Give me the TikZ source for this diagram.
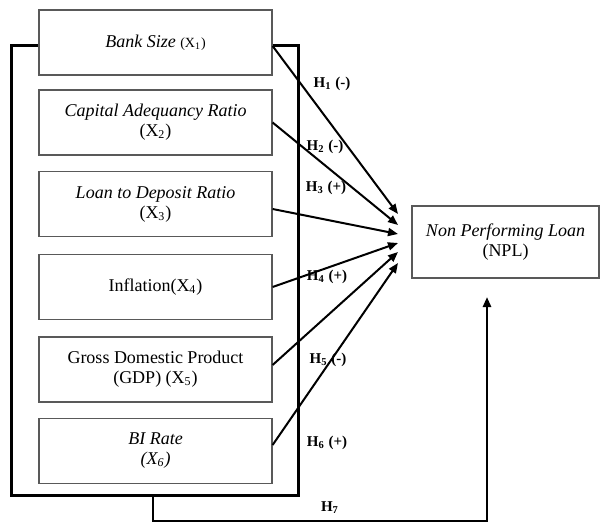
\documentclass[tikz,border=0pt]{standalone}
\usepackage{fontspec}
\setmainfont{Liberation Serif}
\usetikzlibrary{arrows.meta,calc}
\begin{document}
\begin{tikzpicture}[x=0.5pt,y=-0.5pt,
  varbox/.style={draw=black!65,line width=0.6pt,fill=white,minimum width=116.5pt,minimum height=32.5pt,align=center,inner sep=1pt,font=\fontsize{9}{10}\selectfont},
  frame/.style={line width=1.5pt},
  hyparrow/.style={line width=1pt,-{Triangle[length=5pt,width=4pt]}},
  hlabel/.style={font=\fontsize{7.5}{8}\selectfont\bfseries,inner sep=0pt}]
\useasboundingbox (0,0) rectangle (600,524);
% outer frame
\coordinate (fTL) at (11,46);
\coordinate (fBR) at (298,495);
\draw[frame] (fTL) rectangle (fBR);
% boxes
\node[varbox] (b1) at (155.5,42.5) {\textit{Bank Size} {\scriptsize(X\textsubscript{1})}};
\node[varbox] (b2) at (155.5,122.5) {\textit{Capital Adequancy Ratio}\\(X\textsubscript{2})};
\node[varbox] (b3) at (155.5,204) {\textit{Loan to Deposit Ratio}\\(X\textsubscript{3})};
\node[varbox] (b4) at (155.5,287) {Inflation(X\textsubscript{4})};
\node[varbox] (b5) at (155.5,369.5) {Gross Domestic Product\\(GDP) (X\textsubscript{5})};
\node[varbox] (b6) at (155.5,451) {\textit{BI Rate}\\\textit{(X\textsubscript{6})}};
\node[draw=black!65,line width=0.6pt,minimum width=93.5pt,minimum height=36pt,align=center,inner sep=1pt,font=\fontsize{9}{10}\selectfont] (npl) at (505.5,242) {\textit{Non Performing Loan}\\(NPL)};
% tips
\coordinate (t1) at (398,214);
\coordinate (t2) at (398,225);
\coordinate (t3) at (398,234);
\coordinate (t4) at (398,243);
\coordinate (t5) at (398,252);
\coordinate (t6) at (398,263);
\draw[hyparrow] ($(b1.east)+(0,3.5)$) -- (t1);
\draw[hyparrow] (b2.east) -- (t2);
\draw[hyparrow] ($(b3.east)+(0,5)$) -- (t3);
\draw[hyparrow] (b4.east) -- (t4);
\draw[hyparrow] ($(b5.east)+(0,-4.5)$) -- (t5);
\draw[hyparrow] ($(b6.east)+(0,-6)$) -- (t6);
% labels
\node[hlabel] (h1) at (332,84) {H\textsubscript{1} (-)};
\node[hlabel] (h2) at (325,147) {H\textsubscript{2} (-)};
\node[hlabel] (h3) at (326,188) {H\textsubscript{3} (+)};
\node[hlabel] (h4) at (327,277) {H\textsubscript{4} (+)};
\node[hlabel] (h5) at (328,360) {H\textsubscript{5} (-)};
\node[hlabel] (h6) at (327,443) {H\textsubscript{6} (+)};
% H7 connector
\coordinate (s7) at (153,495);
\coordinate (e7) at (487,297);
\draw[line width=1.3pt,-{Triangle[length=5pt,width=4pt]}] (s7) -- (153,521) -- (487,521) -- (e7);
\node[hlabel] (h7) at (330,508) {H\textsubscript{7}};
\end{tikzpicture}
\end{document}
